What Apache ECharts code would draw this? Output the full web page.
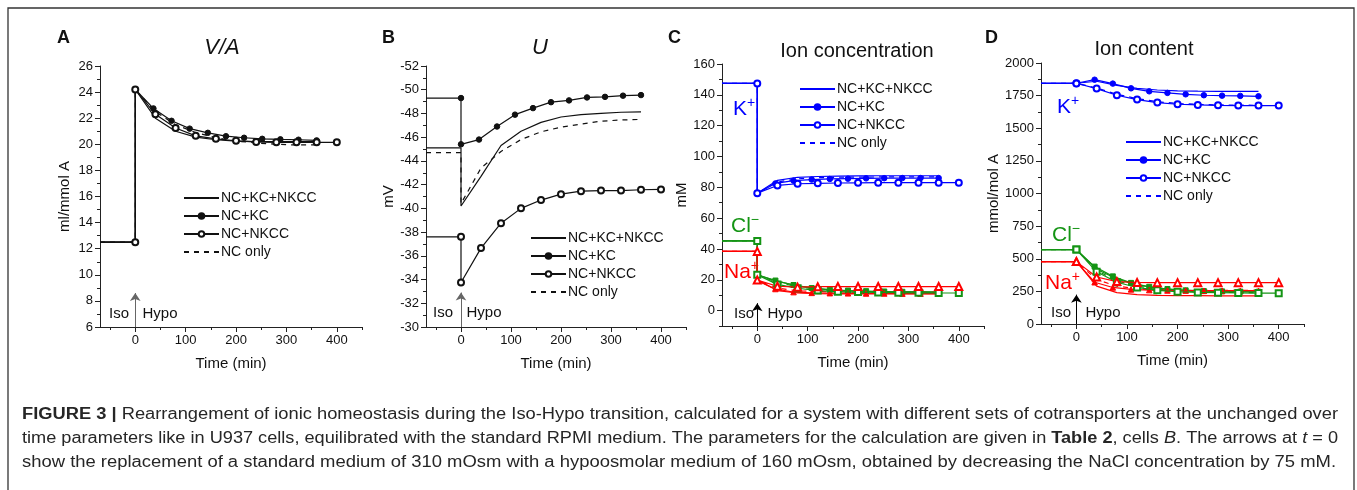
<!DOCTYPE html>
<html><head><meta charset="utf-8">
<script src="https://cdn.jsdelivr.net/npm/echarts@6/dist/echarts.min.js"></script>
<style>html,body{margin:0;padding:0;background:#fff}#c{width:1357px;height:490px}</style>
</head><body><div id="c"></div>
<script>
// ---------- data ----------
const T_START = -70;
const T36 = [0, 36, 72, 108, 144, 180, 216, 252, 288, 324, 360];
const T40 = [0, 40, 80, 120, 160, 200, 240, 280, 320, 360, 400];
const T40S = [0, 40, 80, 120, 160, 200, 240, 280, 320, 360];

const XMAJ = [0, 100, 200, 300, 400];
const XMIN = [-50, 50, 150, 250, 350, 450];
const A_YMAJ = [6, 8, 10, 12, 14, 16, 18, 20, 22, 24, 26];
const A_YMIN = [7, 9, 11, 13, 15, 17, 19, 21, 23, 25];
const B_YMAJ = [-52, -50, -48, -46, -44, -42, -40, -38, -36, -34, -32, -30];
const B_YMIN = [-51, -49, -47, -45, -43, -41, -39, -37, -35, -33, -31];
const C_YMAJ = [0, 20, 40, 60, 80, 100, 120, 140, 160];
const C_YMIN = [-10, 10, 30, 50, 70, 90, 110, 130, 150];
const D_YMAJ = [0, 250, 500, 750, 1000, 1250, 1500, 1750, 2000];
const D_YMIN = [125, 375, 625, 875, 1125, 1375, 1625, 1875];

const LEGEND_NAMES = ['NC+KC+NKCC', 'NC+KC', 'NC+NKCC', 'NC only'];

// Panel A: V/A (ml/mmol A)
const A_ISO = 12.5;
const A_ALL = [24.2, 22.0, 21.0, 20.55, 20.35, 20.25, 20.2, 20.2, 20.2, 20.2];
const A_KC = [24.2, 22.75, 21.8, 21.2, 20.88, 20.62, 20.5, 20.42, 20.38, 20.35, 20.3];
const A_NKCC = [24.2, 22.3, 21.25, 20.65, 20.42, 20.27, 20.18, 20.15, 20.15, 20.15, 20.15];
const A_NC = [24.2, 22.5, 21.5, 20.9, 20.5, 20.25, 20.1, 20.0, 19.95, 19.95];

// Panel B: U (mV)
const B_ISO_ALL = -45.1, B_ISO_KC = -49.3, B_ISO_NKCC = -37.6, B_ISO_NC = -44.7;
const B_ALL = [-40.2, -42.7, -45.3, -46.5, -47.25, -47.7, -47.9, -48.0, -48.1, -48.13];
const B_KC = [-45.4, -45.8, -46.9, -47.9, -48.45, -48.95, -49.1, -49.35, -49.4, -49.5, -49.55];
const B_NKCC = [-33.75, -36.65, -38.75, -40.0, -40.7, -41.2, -41.45, -41.5, -41.5, -41.57, -41.6];
const B_NC = [-40.4, -43.4, -44.8, -45.8, -46.45, -46.85, -47.1, -47.35, -47.45, -47.5];

// Panel C: ion concentration (mM)
const C_K_ISO = 147.4;
const C_K_ALL = [76.2, 84.5, 86.5, 87.0, 87.3, 87.4, 87.5, 87.5, 87.5, 87.5];
const C_K_KC = [76.2, 82.5, 84.3, 85.0, 85.4, 85.6, 85.8, 85.9, 86.0, 86.0, 86.0];
const C_K_NKCC = [76.2, 81.2, 82.3, 82.6, 82.8, 82.9, 83.0, 83.0, 83.0, 83.0, 83.0];
const C_K_NC = [76.2, 83.5, 85.5, 86.2, 86.5, 86.6, 86.7, 86.7, 86.7, 86.7];
const C_CL_ISO = 45.2;
const C_CL_ALL = [23.2, 19.0, 16.0, 14.2, 13.2, 12.7, 12.4, 12.2, 12.1, 12.0];
const C_CL_KC = [23.2, 19.5, 16.6, 14.6, 13.5, 13.0, 12.6, 12.4, 12.2, 12.1, 12.0];
const C_CL_NKCC = [23.2, 17.0, 14.5, 13.0, 12.3, 12.0, 11.8, 11.6, 11.5, 11.4, 11.4];
const C_CL_NC = [23.2, 18.3, 15.4, 13.8, 13.0, 12.5, 12.2, 12.0, 11.9, 11.9];
const C_NA_ISO = 38.4;
const C_NA_ALL = [19.6, 13.0, 11.4, 11.0, 10.9, 10.8, 10.8, 10.8, 10.8, 10.8];
const C_NA_KC = [19.6, 14.0, 12.0, 11.5, 11.3, 11.2, 11.1, 11.1, 11.0, 11.0, 11.0];
const C_NA_NKCC = [19.8, 15.8, 15.2, 15.5, 15.6, 15.6, 15.6, 15.6, 15.6, 15.6, 15.6];
const C_NA_NC = [19.6, 14.6, 12.8, 12.3, 12.1, 12.0, 12.0, 12.0, 12.0, 12.0];

// Panel D: ion content (mmol/mol A)
const D_K_ISO = 1845;
const D_K_ALL = [1842, 1860, 1828, 1805, 1793, 1787, 1784, 1783, 1783, 1783];
const D_K_KC = [1842, 1872, 1842, 1806, 1783, 1771, 1760, 1753, 1750, 1748, 1745];
const D_K_NKCC = [1842, 1804, 1753, 1720, 1697, 1684, 1679, 1676, 1674, 1674, 1674];
const D_K_NC = [1842, 1808, 1760, 1727, 1703, 1690, 1683, 1679, 1677, 1676];
const D_CL_ISO = 570;
const D_CL_ALL = [570, 420, 345, 300, 275, 262, 255, 250, 248, 247];
const D_CL_KC = [570, 440, 365, 315, 285, 268, 258, 252, 250, 248, 247];
const D_CL_NKCC = [570, 400, 320, 280, 258, 247, 242, 240, 238, 237, 236];
const D_CL_NC = [570, 410, 330, 290, 268, 255, 248, 244, 241, 240];
const D_NA_ISO = 478;
const D_NA_ALL = [478, 290, 240, 225, 220, 218, 217, 216, 215, 215];
const D_NA_KC = [478, 320, 280, 265, 260, 257, 256, 255, 255, 255, 255];
const D_NA_NKCC = [478, 360, 325, 318, 317, 317, 317, 317, 317, 317, 317];
const D_NA_NC = [478, 340, 290, 270, 262, 259, 258, 258, 258, 258];

// caption
const CAPTION = [
  [['b', 'FIGURE 3 | '], ['n', 'Rearrangement of ionic homeostasis during the Iso-Hypo transition, calculated for a system with different sets of cotransporters at the unchanged over']],
  [['n', 'time parameters like in U937 cells, equilibrated with the standard RPMI medium. The parameters for the calculation are given in '], ['b', 'Table 2'], ['n', ', cells '], ['i', 'B'], ['n', '. The arrows at '], ['i', 't'], ['n', ' = 0']],
  [['n', 'show the replacement of a standard medium of 310 mOsm with a hypoosmolar medium of 160 mOsm, obtained by decreasing the NaCl concentration by 75 mM.']]
];

// ---------- build ----------
const FF = '"Liberation Sans", Arial, sans-serif';
const BLACK = '#111', BLUE = '#0000ff', GREEN = '#149414', RED = '#ff0000';
const GRIDS = [
  {left: 100, top: 66, width: 262, height: 261},
  {left: 426, top: 66, width: 260, height: 261},
  {left: 722, top: 64, width: 262, height: 262},
  {left: 1041, top: 63, width: 263, height: 261}
];
const Y_CFG = [
  {min: 6, max: 26, maj: A_YMAJ, mn: A_YMIN, name: 'ml/mmol A', gap: 28, inverse: false},
  {min: -52, max: -30, maj: B_YMAJ, mn: B_YMIN, name: 'mV', gap: 30, inverse: true},
  {min: -10, max: 160, maj: C_YMAJ, mn: C_YMIN, name: 'mM', gap: 30, inverse: false},
  {min: 0, max: 2000, maj: D_YMAJ, mn: D_YMIN, name: 'mmol/mol A', gap: 36, inverse: false}
];
const AXC = '#222';
const plain = v => String(v);
const xAxis = [], yAxis = [];
GRIDS.forEach((g, i) => {
  xAxis.push({type: 'value', gridIndex: i, min: T_START, max: 450, position: 'bottom',
    axisLine: {show: true, onZero: false, lineStyle: {color: AXC, width: 1}},
    axisTick: {show: true, customValues: XMAJ, length: 5, lineStyle: {color: AXC}},
    axisLabel: {customValues: XMAJ, fontSize: 13, color: BLACK, margin: 7, fontFamily: FF, formatter: plain},
    splitLine: {show: false},
    name: 'Time (min)', nameLocation: 'middle', nameGap: 29,
    nameTextStyle: {fontSize: 15, color: BLACK, fontFamily: FF}});
  xAxis.push({type: 'value', gridIndex: i, min: T_START, max: 450, position: 'bottom',
    axisLine: {show: false, onZero: false},
    axisTick: {show: true, customValues: XMIN, length: 3, lineStyle: {color: AXC}},
    axisLabel: {show: false}, splitLine: {show: false}});
  const c = Y_CFG[i];
  yAxis.push({type: 'value', gridIndex: i, min: c.min, max: c.max, inverse: c.inverse, position: 'left',
    axisLine: {show: true, onZero: false, lineStyle: {color: AXC, width: 1}},
    axisTick: {show: true, customValues: c.maj, length: 5, lineStyle: {color: AXC}},
    axisLabel: {customValues: c.maj, fontSize: 13, color: BLACK, margin: 7, fontFamily: FF, formatter: plain},
    splitLine: {show: false},
    name: c.name, nameLocation: 'middle', nameGap: c.gap, nameRotate: 90,
    nameTextStyle: {fontSize: 15, color: BLACK, fontFamily: FF}});
  yAxis.push({type: 'value', gridIndex: i, min: c.min, max: c.max, inverse: c.inverse, position: 'left',
    axisLine: {show: false, onZero: false},
    axisTick: {show: true, customValues: c.mn, length: 3, lineStyle: {color: AXC}},
    axisLabel: {show: false}, splitLine: {show: false}});
});

const SHAPES = {circle: ['circle', 'emptyCircle'], rect: ['rect', 'emptyRect'], tri: ['triangle', 'emptyTriangle']};
function mk(g, name, color, iso, times, vals, kind, shape, z) {
  const sh = SHAPES[shape || 'circle'];
  let symbol = 'none', size = 0, dash = 'solid';
  if (kind === 'kc') { symbol = sh[0]; size = shape === 'rect' ? 5 : 5.5; }
  if (kind === 'nkcc') { symbol = sh[1]; size = shape === 'tri' ? 7 : 6; }
  if (kind === 'nc') { dash = [5, 5]; }
  const data = [{value: [T_START, iso], symbol: 'none'}, [0, iso]];
  times.forEach((t, k) => data.push([t, vals[k]]));
  return {type: 'line', name: name, xAxisIndex: 2 * g, yAxisIndex: 2 * g, data: data,
    symbol: symbol, symbolSize: size, showSymbol: symbol !== 'none', z: z || 2,
    lineStyle: {color: color, width: 1.2, type: dash},
    itemStyle: {color: color, borderColor: color, borderWidth: 1},
    emphasis: {disabled: true}, animation: false, clip: false};
}
function arrow(series, y0, y1, color, head) {
  series.markLine = {silent: true, animation: false, symbol: ['none', 'arrow'], symbolSize: head,
    label: {show: false}, lineStyle: {color: color, width: 1, type: 'solid'},
    itemStyle: {color: color}, z: 10,
    emphasis: {disabled: true},
    data: [[{coord: [0, y0]}, {coord: [0, y1]}]]};
  return series;
}
const series = [];
// A
series.push(arrow(mk(0, 'A|NC+KC+NKCC', BLACK, A_ISO, T40S, A_ALL, 'all'), 6, 8.6, '#666', 8));
series.push(mk(0, 'A|NC+KC', BLACK, A_ISO, T36, A_KC, 'kc', 'circle', 3));
series.push(mk(0, 'A|NC+NKCC', BLACK, A_ISO, T40, A_NKCC, 'nkcc', 'circle', 4));
series.push(mk(0, 'A|NC only', BLACK, A_ISO, T40S, A_NC, 'nc'));
// B
series.push(arrow(mk(1, 'B|NC+KC+NKCC', BLACK, B_ISO_ALL, T40S, B_ALL, 'all'), -30, -32.9, '#666', 8));
series.push(mk(1, 'B|NC+KC', BLACK, B_ISO_KC, T36, B_KC, 'kc', 'circle', 3));
series.push(mk(1, 'B|NC+NKCC', BLACK, B_ISO_NKCC, T40, B_NKCC, 'nkcc', 'circle', 4));
series.push(mk(1, 'B|NC only', BLACK, B_ISO_NC, T40S, B_NC, 'nc'));
// C
series.push(arrow(mk(2, 'C|NC+KC+NKCC', BLUE, C_K_ISO, T40S, C_K_ALL, 'all'), -10, 4.8, '#000', 8));
series.push(mk(2, 'C|NC+KC', BLUE, C_K_ISO, T36, C_K_KC, 'kc', 'circle', 3));
series.push(mk(2, 'C|NC+NKCC', BLUE, C_K_ISO, T40, C_K_NKCC, 'nkcc', 'circle', 4));
series.push(mk(2, 'C|NC only', BLUE, C_K_ISO, T40S, C_K_NC, 'nc'));
series.push(mk(2, 'C|Cl all', GREEN, C_CL_ISO, T40S, C_CL_ALL, 'all'));
series.push(mk(2, 'C|Cl kc', GREEN, C_CL_ISO, T36, C_CL_KC, 'kc', 'rect', 3));
series.push(mk(2, 'C|Cl nkcc', GREEN, C_CL_ISO, T40, C_CL_NKCC, 'nkcc', 'rect', 4));
series.push(mk(2, 'C|Cl nc', GREEN, C_CL_ISO, T40S, C_CL_NC, 'nc'));
series.push(mk(2, 'C|Na all', RED, C_NA_ISO, T40S, C_NA_ALL, 'all'));
series.push(mk(2, 'C|Na kc', RED, C_NA_ISO, T36, C_NA_KC, 'kc', 'tri', 3));
series.push(mk(2, 'C|Na nkcc', RED, C_NA_ISO, T40, C_NA_NKCC, 'nkcc', 'tri', 4));
series.push(mk(2, 'C|Na nc', RED, C_NA_ISO, T40S, C_NA_NC, 'nc'));
// D
series.push(arrow(mk(3, 'D|NC+KC+NKCC', BLUE, D_K_ISO, T40S, D_K_ALL, 'all'), 0, 225, '#000', 8));
series.push(mk(3, 'D|NC+KC', BLUE, D_K_ISO, T36, D_K_KC, 'kc', 'circle', 3));
series.push(mk(3, 'D|NC+NKCC', BLUE, D_K_ISO, T40, D_K_NKCC, 'nkcc', 'circle', 4));
series.push(mk(3, 'D|NC only', BLUE, D_K_ISO, T40S, D_K_NC, 'nc'));
series.push(mk(3, 'D|Cl all', GREEN, D_CL_ISO, T40S, D_CL_ALL, 'all'));
series.push(mk(3, 'D|Cl kc', GREEN, D_CL_ISO, T36, D_CL_KC, 'kc', 'rect', 3));
series.push(mk(3, 'D|Cl nkcc', GREEN, D_CL_ISO, T40, D_CL_NKCC, 'nkcc', 'rect', 4));
series.push(mk(3, 'D|Cl nc', GREEN, D_CL_ISO, T40S, D_CL_NC, 'nc'));
series.push(mk(3, 'D|Na all', RED, D_NA_ISO, T40S, D_NA_ALL, 'all'));
series.push(mk(3, 'D|Na kc', RED, D_NA_ISO, T36, D_NA_KC, 'kc', 'tri', 3));
series.push(mk(3, 'D|Na nkcc', RED, D_NA_ISO, T40, D_NA_NKCC, 'nkcc', 'tri', 4));
series.push(mk(3, 'D|Na nc', RED, D_NA_ISO, T40S, D_NA_NC, 'nc'));

const LEG_POS = [{p: 'A', left: 183, top: 191}, {p: 'B', left: 530, top: 231}, {p: 'C', left: 799, top: 82}, {p: 'D', left: 1125, top: 135}];
const NO_MARK = {NC_ALL: 0, NC_ONLY: 3};
const legend = LEG_POS.map(l => ({
  data: LEGEND_NAMES.map((n, k) => {
    const it = {name: l.p + '|' + n};
    if (k === NO_MARK.NC_ALL || k === NO_MARK.NC_ONLY) it.itemStyle = {opacity: 0};
    return it;
  }),
  orient: 'vertical', left: l.left, top: l.top,
  itemWidth: 35, itemHeight: 7, itemGap: 4, padding: 0, selectedMode: false,
  formatter: n => n.split('|')[1],
  textStyle: {fontSize: 14, color: BLACK, fontFamily: FF, padding: [0, 0, 0, -3]}
}));

// graphic texts
const graphic = [];
graphic.push({type: 'rect', shape: {x: 8, y: 8, width: 1346, height: 520}, style: {fill: null, stroke: '#333', lineWidth: 1.3}, silent: true});
function txt(x, y, text, font, fill, align) {
  graphic.push({type: 'text', x: x, y: y, silent: true, style: {text: text, font: font, fill: fill || BLACK, align: align || 'left', verticalAlign: 'middle'}});
}
const LET = 'bold 18px ' + FF;
txt(57, 38, 'A', LET); txt(382, 38, 'B', LET); txt(668, 38, 'C', LET); txt(985, 38, 'D', LET);
txt(222, 48, 'V/A', 'italic 22px ' + FF, BLACK, 'center');
txt(540, 48, 'U', 'italic 22px ' + FF, BLACK, 'center');
txt(857, 51, 'Ion concentration', '20px ' + FF, BLACK, 'center');
txt(1144, 49, 'Ion content', '20px ' + FF, BLACK, 'center');
const IH = '15px ' + FF;
[[119, 160, 314], [443, 484, 313], [744, 785, 314], [1061, 1103, 313]].forEach(p => {
  txt(p[0], p[2], 'Iso', IH, BLACK, 'center'); txt(p[1], p[2], 'Hypo', IH, BLACK, 'center');
});
function ion(x, y, main, sup, color) {
  graphic.push({type: 'text', x: x, y: y, silent: true, style: {
    text: '{m|' + main + '}{s|' + sup + '}', verticalAlign: 'middle',
    rich: {m: {fontSize: 21, fontFamily: FF, fill: color, lineHeight: 24, verticalAlign: 'bottom'},
           s: {fontSize: 14, fontFamily: FF, fill: color, lineHeight: 24, verticalAlign: 'top'}}}});
}
ion(733, 108, 'K', '+', BLUE); ion(731, 225, 'Cl', '−', GREEN); ion(724, 271, 'Na', '+', RED);
ion(1057, 106, 'K', '+', BLUE); ion(1052, 234, 'Cl', '−', GREEN); ion(1045, 282, 'Na', '+', RED);

// caption
const CFS = 16;
const capFonts = {n: CFS + 'px ' + FF, b: 'bold ' + CFS + 'px ' + FF, i: 'italic ' + CFS + 'px ' + FF};
const mctx = document.createElement('canvas').getContext('2d');
const CAP_Y = [415, 439, 463], CAP_W = [1316, 1316, 1314];
const CAPC = '#262626';
CAPTION.forEach((segs, li) => {
  let w = 0, str = '';
  segs.forEach(s => { mctx.font = capFonts[s[0]]; w += mctx.measureText(s[1]).width; str += '{' + s[0] + '|' + s[1] + '}'; });
  graphic.push({type: 'text', x: 22, y: CAP_Y[li], scaleX: CAP_W[li] / w, silent: true, style: {
    text: str, verticalAlign: 'middle',
    rich: {n: {fontSize: CFS, fontFamily: FF, fill: CAPC},
           b: {fontSize: CFS, fontFamily: FF, fontWeight: 'bold', fill: CAPC},
           i: {fontSize: CFS, fontFamily: FF, fontStyle: 'italic', fill: CAPC}}}});
});

const chart = echarts.init(document.getElementById('c'), null, {renderer: 'canvas'});
chart.setOption({
  animation: false, backgroundColor: '#fff',
  grid: GRIDS.map(g => Object.assign({containLabel: false}, g)),
  xAxis: xAxis, yAxis: yAxis, legend: legend, series: series, graphic: graphic
});
</script></body></html>
